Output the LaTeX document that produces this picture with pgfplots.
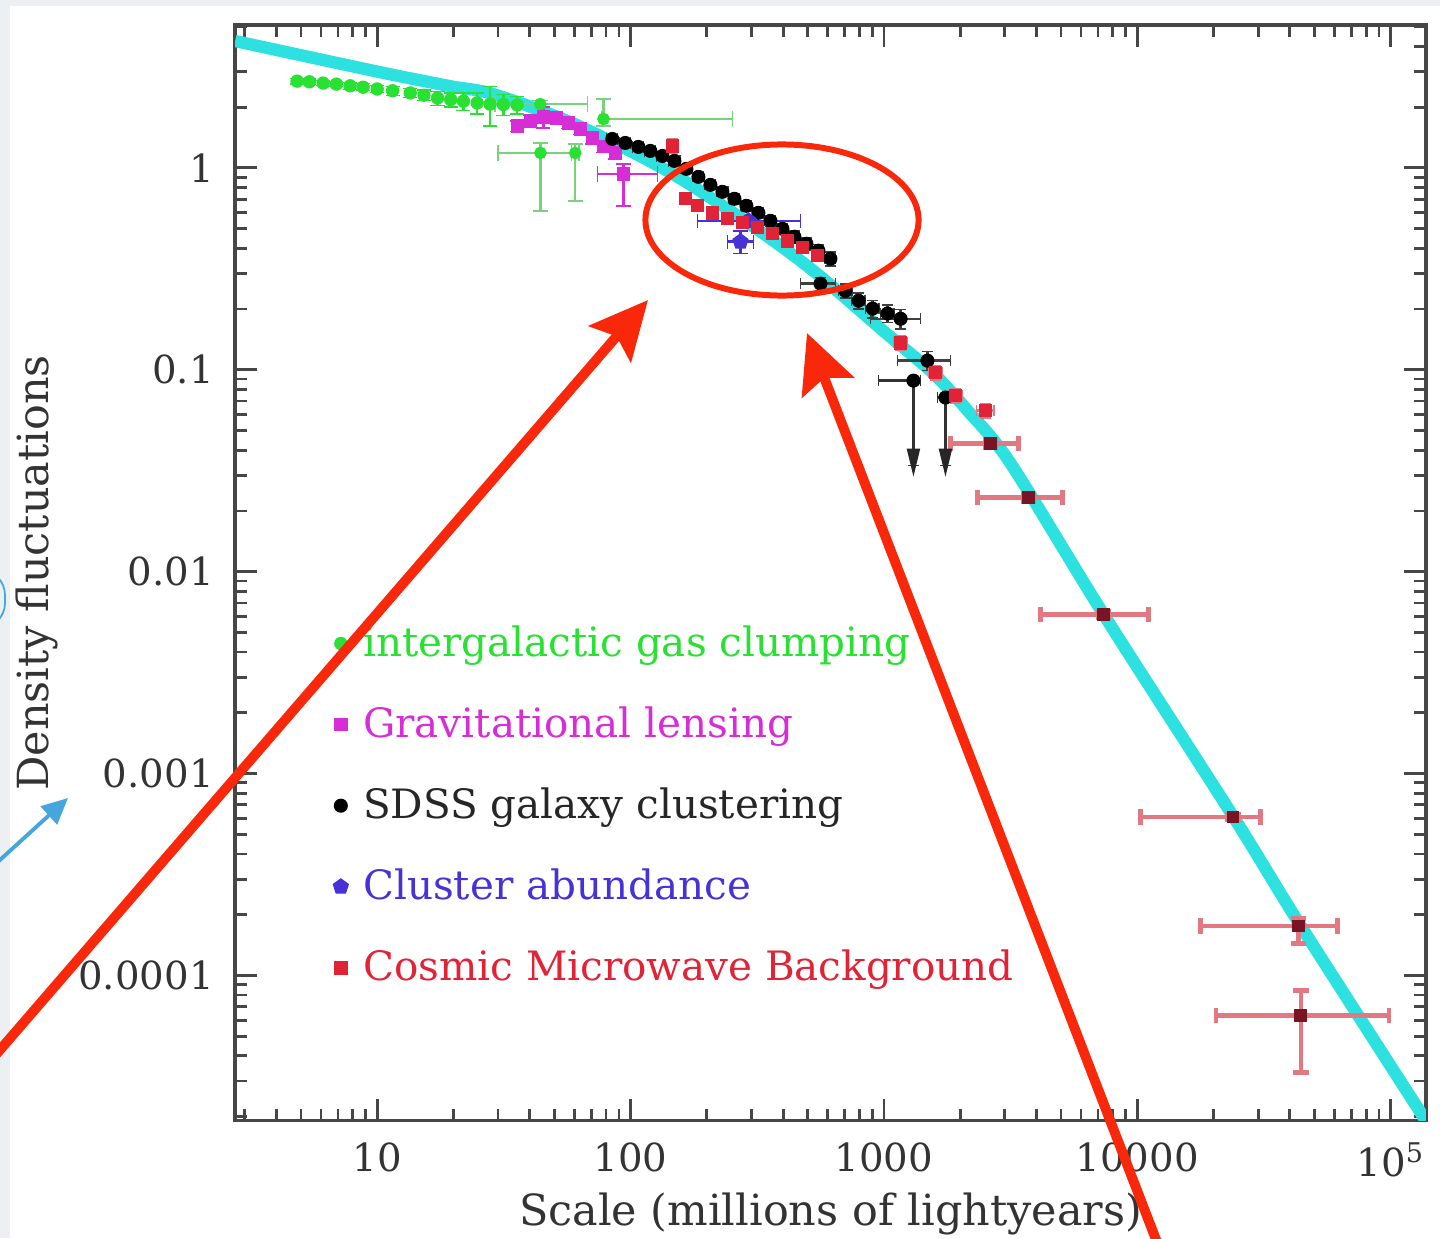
\documentclass[border=0pt]{standalone}
\usepackage{fontspec}
\setmainfont{DejaVu Serif}
\usepackage{pgfplots}
\pgfplotsset{compat=1.18}
\usepackage{pgfplotstable}
\usetikzlibrary{arrows.meta}

\definecolor{curvecyan}{RGB}{45,225,225}
\definecolor{gasgreen}{RGB}{40,225,50}
\definecolor{lensmag}{RGB}{215,45,215}
\definecolor{clusterblue}{RGB}{70,50,215}
\definecolor{cmbred}{RGB}{225,35,55}
\definecolor{cmbbar}{RGB}{225,120,130}
\definecolor{cmbdark}{RGB}{120,20,35}
\definecolor{axisgray}{RGB}{70,70,70}
\definecolor{annred}{RGB}{250,40,10}
\definecolor{annblue}{RGB}{70,165,220}
\definecolor{stripgray}{RGB}{236,240,242}

% model power spectrum (fluctuation amplitude vs scale)
\pgfplotstableread{
x y
2.75 4.25
10 3.0
19.4 2.54
28.7 2.32
60 1.65
140 0.966
300 0.52
527 0.309
1000 0.155
1570 0.0958
2138 0.0629
3162 0.0344
7362 0.00615
24040 6.07e-4
44190 1.76e-4
137700 1.91e-5
}\modelcurve

% Lyman-alpha forest
\pgfplotstableread{
x y ey
4.83 2.69 0.03
5.4 2.67 0.03
6.12 2.63 0.03
6.9 2.60 0.03
7.82 2.55 0.04
8.8 2.51 0.04
10.0 2.46 0.04
11.5 2.41 0.05
13.5 2.35 0.05
15.3 2.29 0.06
17.3 2.22 0.08
19.5 2.18 0.08
21.9 2.14 0.10
24.8 2.10 0.12
27.9 2.07 0.22
31.5 2.06 0.12
35.7 2.05 0.10
}\gasdata

\pgfplotstableread{
x y xm xp ym yp
44.0 2.07 14.8 23.5 0.08 0.08
78.2 1.747 1.0 174 0.134 0.448
44.1 1.186 14.1 18.1 0.573 0.144
60.5 1.186 2.0 2.0 0.499 0.129
}\gasextra

% weak lensing
\pgfplotstableread{
x y ey
35.7 1.61 0.06
40.2 1.71 0.06
45.3 1.79 0.12
50.9 1.77 0.06
56.8 1.67 0.06
63.4 1.56 0.06
70.7 1.41 0.07
78.2 1.28 0.07
87.1 1.19 0.07
}\lensdata

\pgfplotstableread{
x y xm xp ym yp
93.7 0.934 19.7 33.9 0.285 0.113
}\lensextra

% SDSS galaxy clustering
\pgfplotstableread{
x y ex ey
84.7 1.391 0.05 0.05
95.3 1.329 0.05 0.05
107.4 1.270 0.05 0.05
119.7 1.214 0.05 0.05
133.6 1.146 0.05 0.05
149.0 1.083 0.05 0.05
166.1 0.989 0.05 0.05
185.3 0.903 0.05 0.05
206.6 0.824 0.05 0.05
230.5 0.761 0.05 0.05
257.0 0.703 0.05 0.06
286.6 0.649 0.05 0.06
319.6 0.599 0.05 0.06
356.5 0.547 0.05 0.06
397.6 0.499 0.05 0.06
443.4 0.456 0.05 0.07
494.4 0.421 0.05 0.07
551.4 0.389 0.05 0.07
615 0.355 0.05 0.08
705 0.246 0.06 0.08
794 0.220 0.06 0.09
902 0.201 0.06 0.10
1033 0.190 0.06 0.10
}\sdssdata

\pgfplotstableread{
x y xm xp ym yp
562 0.267 93 82 0.02 0.02
1164 0.179 279 232 0.02 0.02
1485 0.111 353 347 0.012 0.012
}\sdssextra

% upper limits: point, horizontal range, lower end of the limit
\pgfplotstableread{
x y xm xp ym tip
1308 0.0884 356 88 0.0548 0.0368
1750 0.0729 120 120 0.0393 0.0368
}\sdsslimits

% cluster abundance
\pgfplotstableread{
x y xm xp ym yp
291.7 0.547 108 177 0.02 0.02
271.6 0.431 30.5 33.9 0.055 0.057
}\clusterdata

% CMB
\pgfplotstableread{
x y ex ey
146 1.285 0.05 0.08
164.4 0.703 0.05 0.06
183.6 0.649 0.05 0.06
210.5 0.599 0.05 0.06
241.1 0.560 0.05 0.06
276.5 0.535 0.05 0.06
316.8 0.505 0.05 0.06
363.1 0.472 0.05 0.06
416 0.435 0.05 0.06
477 0.402 0.05 0.06
547 0.367 0.05 0.06
1164 0.136 0.06 0.08
1600 0.0969 0.06 0.08
1919 0.0745 0.06 0.08
2519 0.0628 0.08 0.08
}\cmbdata

\pgfplotstableread{
x y xm xp ym yp
2637 0.0432 805 767 0.002 0.002
3724 0.0233 1380 1346 0.001 0.001
7362 0.00615 3212 3728 0.0002 0.0002
23830 6.10e-4 13530 6860 2e-5 2e-5
43350 1.76e-4 25570 18450 3.2e-5 1.5e-5
44190 6.33e-5 23770 54210 3.02e-5 2.08e-5
}\cmbwide

\begin{document}
\begin{tikzpicture}
\begin{axis}[
  scale only axis,
  width=11.9cm, height=10.95cm,
  xmode=log, ymode=log,
  xmin=2.75, xmax=1.377e5,
  ymin=1.91e-5, ymax=5.1,
  axis line style={line width=1pt, draw=axisgray},
  tick style={line width=0.8pt, draw=axisgray},
  tick align=inside,
  major tick length=0.22cm,
  minor tick length=0.12cm,
  xtick={10,100,1000,10000,100000},
  xticklabels={10,100,1000,10000,10\textsuperscript{5}},
  ytick={1e-4,1e-3,1e-2,1e-1,1},
  yticklabels={0.0001,0.001,0.01,0.1,1},
  minor xtick={3,4,5,6,7,8,9,20,30,40,50,60,70,80,90,200,300,400,500,600,700,800,900,2000,3000,4000,5000,6000,7000,8000,9000,20000,30000,40000,50000,60000,70000,80000,90000},
  minor ytick={2e-5,3e-5,4e-5,5e-5,6e-5,7e-5,8e-5,9e-5,2e-4,3e-4,4e-4,5e-4,6e-4,7e-4,8e-4,9e-4,2e-3,3e-3,4e-3,5e-3,6e-3,7e-3,8e-3,9e-3,0.02,0.03,0.04,0.05,0.06,0.07,0.08,0.09,0.2,0.3,0.4,0.5,0.6,0.7,0.8,0.9,2,3,4,5},
  xticklabel style={font=\fontsize{11}{13}\selectfont, text=black!80, yshift=-0.1cm},
  yticklabel style={font=\fontsize{11}{13}\selectfont, text=black!80, xshift=-0.09cm},
  xlabel={Scale (millions of lightyears)},
  ylabel={Density fluctuations},
  label style={font=\fontsize{12.2}{14}\selectfont, text=black!80},
  xlabel style={at={(axis description cs:0.5,-0.085)}, anchor=center},
  ylabel style={at={(axis description cs:-0.1664,0.5)}, anchor=center},
  legend style={draw=none, fill=none, at={(axis description cs:0.082,0.459)},
    anchor=north west, font=\fontsize{11.5}{14}\selectfont, row sep=0.31cm,
    column sep=0.08cm, inner sep=0pt},
  legend cell align=left,
  error bars/error bar style={line width=0.7pt},
]

\addplot[curvecyan, line width=3.5pt, smooth, forget plot] table[x=x,y=y] {\modelcurve};

% intergalactic gas
\addplot[only marks, mark=*, mark size=1.7pt, color=gasgreen,
  error bars/.cd, y dir=both, y explicit relative,
  error mark options={rotate=90, mark size=2pt}]
  table[x=x,y=y,y error=ey] {\gasdata};
\addlegendentry[text=gasgreen]{intergalactic gas clumping}
\addplot[only marks, mark=*, mark size=1.6pt, color=gasgreen, forget plot,
  error bars/.cd, x dir=both, x explicit, y dir=both, y explicit,
  error bar style={color=gasgreen!80!black!60!white},
  error mark options={rotate=90, mark size=2.2pt}]
  table[x=x,y=y,x error plus=xp,x error minus=xm,y error plus=yp,y error minus=ym] {\gasextra};

% weak lensing
\addplot[only marks, mark=square*, mark size=1.7pt, color=lensmag,
  error bars/.cd, y dir=both, y explicit relative,
  error mark options={rotate=90, mark size=2pt}]
  table[x=x,y=y,y error=ey] {\lensdata};
\addlegendentry[text=lensmag]{Gravitational lensing}
\addplot[only marks, mark=square*, mark size=1.7pt, color=lensmag, forget plot,
  error bars/.cd, x dir=both, x explicit, y dir=both, y explicit,
  error mark options={rotate=90, mark size=2.2pt}]
  table[x=x,y=y,x error plus=xp,x error minus=xm,y error plus=yp,y error minus=ym] {\lensextra};

% SDSS
\addplot[only marks, mark=*, mark size=1.8pt, color=black,
  error bars/.cd, x dir=both, x explicit relative, y dir=both, y explicit relative,
  error bar style={color=black!75}, error mark options={rotate=90, mark size=1.6pt}]
  table[x=x,y=y,x error=ex,y error=ey] {\sdssdata};
\addlegendentry[text=black!85]{SDSS galaxy clustering}
\addplot[only marks, mark=*, mark size=1.8pt, color=black, forget plot,
  error bars/.cd, x dir=both, x explicit, y dir=both, y explicit,
  error bar style={color=black!75}, error mark options={rotate=90, mark size=1.6pt}]
  table[x=x,y=y,x error plus=xp,x error minus=xm,y error plus=yp,y error minus=ym] {\sdssextra};
\addplot[only marks, mark=*, mark size=1.8pt, color=black, forget plot,
  error bars/.cd, x dir=both, x explicit, y dir=minus, y explicit,
  error bar style={color=black!80, line width=0.9pt},
  error mark options={rotate=90, mark size=1.6pt}]
  table[x=x,y=y,x error plus=xp,x error minus=xm,y error minus=ym] {\sdsslimits};
% arrow heads marking the upper limits
\addplot[only marks, mark=triangle*, color=black!85, forget plot,
  mark options={rotate=180, xscale=0.42, mark size=4.6pt}]
  table[x=x,y=tip] {\sdsslimits};

% cluster abundance
\addplot[only marks, mark=pentagon*, mark size=2.2pt, color=clusterblue,
  error bars/.cd, x dir=both, x explicit, y dir=both, y explicit,
  error mark options={rotate=90, mark size=2pt}]
  table[x=x,y=y,x error plus=xp,x error minus=xm,y error plus=yp,y error minus=ym] {\clusterdata};
\addlegendentry[text=clusterblue]{Cluster abundance}

% CMB
\addplot[only marks, mark=square*, mark size=1.7pt, color=cmbred,
  error bars/.cd, x dir=both, x explicit relative, y dir=both, y explicit relative,
  error bar style={color=cmbbar}, error mark options={rotate=90, mark size=1.6pt}]
  table[x=x,y=y,x error=ex,y error=ey] {\cmbdata};
\addlegendentry[text=cmbred]{Cosmic Microwave Background}
\addplot[only marks, mark=square*, mark size=1.6pt, color=cmbdark, forget plot,
  error bars/.cd, x dir=both, x explicit, y dir=both, y explicit,
  error bar style={color=cmbbar, line width=1.3pt},
  error mark options={rotate=90, mark size=2.2pt, line width=1.3pt}]
  table[x=x,y=y,x error plus=xp,x error minus=xm,y error plus=yp,y error minus=ym] {\cmbwide};
\end{axis}

% annotations drawn over the figure, in pixel-like units from the top-left corner
\begin{scope}[x=0.01cm, y=-0.01cm, shift={(-2.35cm,11.2cm)}]
  \fill[stripgray] (0,0) rectangle (10,1238);
  \fill[stripgray] (0,0) rectangle (1440,6);
  \draw[annblue, line width=0.5pt, rounded corners=0.25cm] (-200,570) rectangle (5,628);
  \draw[annblue, line width=1.1pt, -{Triangle[length=0.26cm, width=0.24cm]}] (-10,869) -- (68,798);
  \draw[annred, line width=1.7pt] (782,220) ellipse [x radius=1.365cm, y radius=0.755cm];
  \draw[annred, line width=2.8pt, -{Stealth[length=0.58cm, width=0.55cm, inset=0.1cm]}] (-20,1073) -- (648,300);
  \draw[annred, line width=2.8pt, -{Stealth[length=0.58cm, width=0.55cm, inset=0.1cm]}] (1160,1250) -- (807,333);
  \pgfresetboundingbox
  \path[use as bounding box] (0,0) rectangle (1440,1238);
\end{scope}
\end{tikzpicture}
\end{document}
